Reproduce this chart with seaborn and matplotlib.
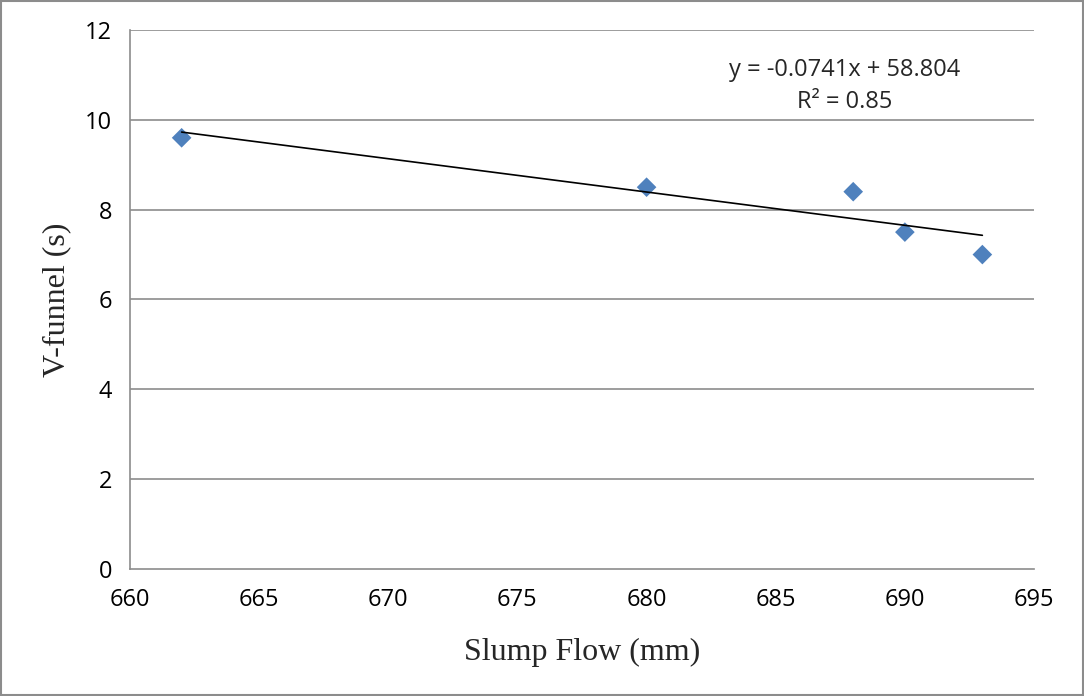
import matplotlib
matplotlib.use("Agg")
import matplotlib.pyplot as plt
import seaborn as sns
import numpy as np
import pandas as pd

slump_flow = [662, 680, 688, 690, 693]
v_funnel = [9.6, 8.5, 8.4, 7.5, 7.0]
x_ticks = [660, 665, 670, 675, 680, 685, 690, 695]
y_ticks = [0, 2, 4, 6, 8, 10, 12]
equation_text = "y = -0.0741x + 58.804"
r2_text = "R\u00b2 = 0.85"

df = pd.DataFrame({"Slump Flow (mm)": slump_flow, "V-funnel (s)": v_funnel})

sns.set_style("white")
plt.rcParams['font.family'] = ['Open Sans', 'DejaVu Sans']

fig = plt.figure(figsize=(10.84, 6.96), dpi=100)
ax = fig.add_axes([0.1199, 0.1825, 0.834, 0.7744])

grid_c = "#8c8c8c"
for yv in y_ticks[1:]:
    ax.axhline(yv, color=grid_c, lw=1.2, zorder=0)

sns.scatterplot(data=df, x="Slump Flow (mm)", y="V-funnel (s)", marker="D",
                s=100, color="#4F81BD", edgecolor="none", ax=ax, zorder=3)
sns.regplot(data=df, x="Slump Flow (mm)", y="V-funnel (s)", scatter=False, ci=None,
            truncate=True, line_kws=dict(color="black", lw=1.2, zorder=4), ax=ax)

ax.set_xlim(660, 695)
ax.set_ylim(0, 12)
ax.set_xticks(x_ticks)
ax.set_yticks(y_ticks)
ax.tick_params(axis="both", labelsize=17, colors="black", length=6, width=1.2,
               direction="out", color=grid_c, pad=7)
ax.tick_params(axis="x", pad=8)
for s in ["top", "right"]:
    ax.spines[s].set_visible(False)
for s in ["left", "bottom"]:
    ax.spines[s].set_color(grid_c)
    ax.spines[s].set_linewidth(1.2)

ax.set_xlabel("Slump Flow (mm)", fontsize=23, family=["Liberation Serif"], labelpad=18)
ax.set_ylabel("V-funnel (s)", fontsize=23, family=["Liberation Serif"], labelpad=10)

ax.text(0.791, 0.926, equation_text, transform=ax.transAxes, ha="center", va="center", fontsize=17)
ax.text(0.791, 0.866, r2_text, transform=ax.transAxes, ha="center", va="center", fontsize=17)

border = plt.Rectangle((0.001, 0.001), 0.998, 0.997, transform=fig.transFigure,
                       fill=False, edgecolor="#8c8c8c", lw=1.5)
fig.add_artist(border)

fig.savefig("out.png", dpi=100)
